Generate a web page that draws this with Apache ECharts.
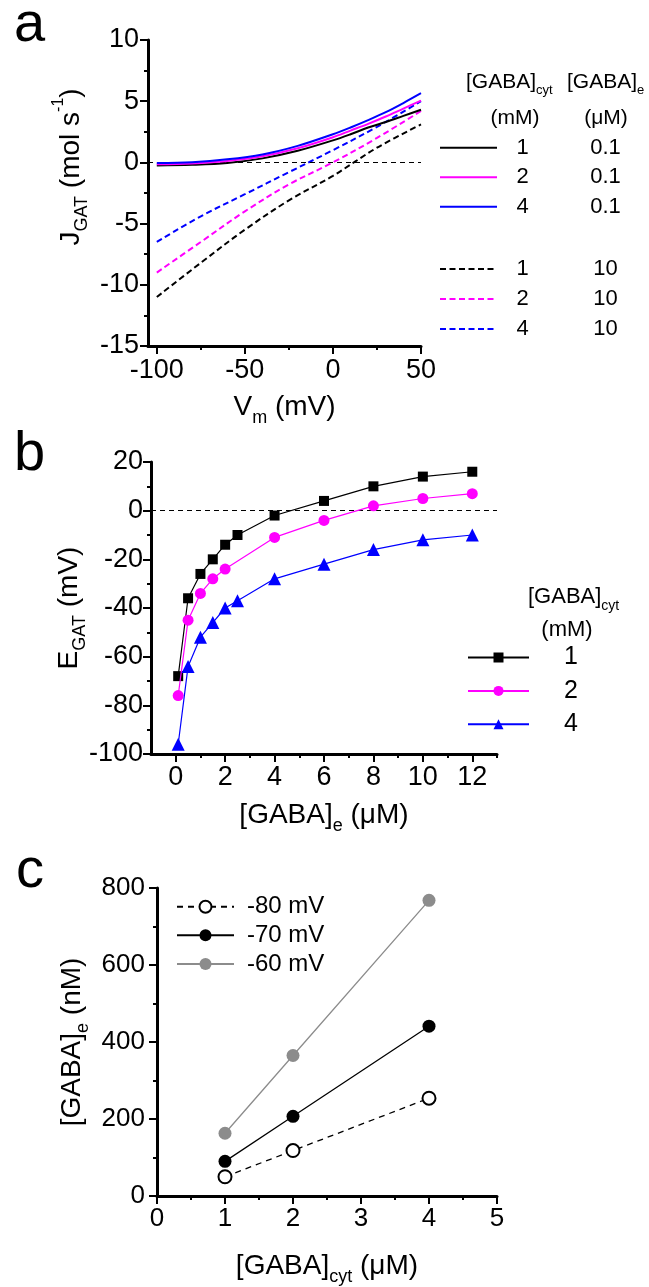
<!DOCTYPE html>
<html><head><meta charset="utf-8">
<script src="https://cdn.jsdelivr.net/npm/echarts@6/dist/echarts.min.js"></script>
<style>html,body{margin:0;padding:0;background:#fff}#c{width:649px;height:1287px}</style>
</head><body><div id="c"></div>
<script>
// ---------- Panel a data ----------
const vmSolid = [-100,-80,-60,-40,-20,0,10,20,30,40,50];
const jCyt1Low = [-0.25,-0.2,-0.05,0.33,0.95,1.8,2.3,2.85,3.3,3.8,4.3];
const jCyt2Low = [-0.15,-0.08,0.12,0.5,1.15,2.05,2.6,3.15,3.75,4.4,5.05];
const jCyt4Low = [-0.05,0.02,0.25,0.65,1.35,2.3,2.85,3.45,4.1,4.85,5.65];
const vmDashed = [-100,-75,-50,-25,0,25,50];
const jCyt1High = [-11.0,-8.2,-5.5,-3.1,-1.1,1.2,3.1];
const jCyt2High = [-9.0,-6.5,-4.0,-1.8,0.0,2.0,4.2];
const jCyt4High = [-6.5,-4.4,-2.6,-0.8,1.0,2.9,5.0];
const xTicksA = [-100,-50,0,50];
const xMinorA = [-75,-25,25];
const cytLevels = ['1','2','4'];
const eLevels = ['0.1','10'];
// ---------- Panel b data ----------
const gabaE1 = [0.1,0.5,1,1.5,2,2.5,4,6,8,10,12];
const eCyt1 = [-68,-36,-26,-20,-14,-10,-2,4,10,14,16];
const gabaE2 = [0.1,0.5,1,1.5,2,4,6,8,10,12];
const eCyt2 = [-76,-45,-34,-28,-24,-11,-4,2,5,7];
const gabaE4 = [0.1,0.5,1,1.5,2,2.5,4,6,8,10,12];
const eCyt4 = [-96,-64,-52,-46,-40,-37,-28,-22,-16,-12,-10];
const xTicksB = [0,2,4,6,8,10,12];
const xMinorB = [1,3,5,7,9,11,13];
// ---------- Panel c data ----------
const gabaCyt = [1,2,4];
const gabaE80 = [50,118,254];
const gabaE70 = [90,207,441];
const gabaE60 = [163,365,768];
const vLabels = ['-80 mV','-70 mV','-60 mV'];

const FF = '"Liberation Sans", Arial, Helvetica, sans-serif';
const pairs = (xs, ys) => xs.map((x, i) => [x, ys[i]]);

function nameRich(size, sub) {
  return {
    m: {fontSize: size, lineHeight: 40, color: '#000', fontFamily: FF},
    s: {fontSize: sub, lineHeight: sub, verticalAlign: 'bottom', color: '#000', fontFamily: FF},
    p: {fontSize: sub - 2, lineHeight: sub, verticalAlign: 'top', color: '#000', fontFamily: FF}
  };
}
function baseAxis(o) {
  const ax = {
    type: 'value',
    nameMoveOverlap: false,
    axisLine: {show: true, onZero: false, lineStyle: {color: '#000', width: 3}},
    axisTick: {show: true, inside: false, length: 8, lineStyle: {color: '#000', width: 2}},
    minorTick: {show: true, splitNumber: 2, length: 4, lineStyle: {color: '#000', width: 2}},
    splitLine: {show: false},
    minorSplitLine: {show: false},
    axisLabel: {color: '#000', fontSize: 27, fontFamily: FF, margin: 10}
  };
  for (const k in o) {
    if (ax[k] && typeof ax[k] === 'object' && typeof o[k] === 'object' && !Array.isArray(o[k])) {
      ax[k] = Object.assign({}, ax[k], o[k]);
    } else ax[k] = o[k];
  }
  return ax;
}
function minorAxis(grid, min, max, vals) {
  return {
    type: 'value', gridIndex: grid, min, max, position: 'bottom',
    axisLine: {show: false, onZero: false},
    axisTick: {show: true, inside: false, length: 4, customValues: vals, lineStyle: {color: '#000', width: 2}},
    axisLabel: {show: false}, splitLine: {show: false}
  };
}

const xAxis = [
  baseAxis({gridIndex: 0, min: -105, max: 50, minorTick: {show: false},
    axisTick: {customValues: xTicksA}, axisLabel: {customValues: xTicksA, margin: 11},
    name: '{m|V}{s|m}{m| (mV)}', nameLocation: 'middle', nameGap: 41,
    nameTextStyle: {rich: nameRich(28, 18)}}),
  minorAxis(0, -105, 50, xMinorA),
  baseAxis({gridIndex: 1, min: -1, max: 13, minorTick: {show: false},
    axisTick: {customValues: xTicksB}, axisLabel: {customValues: xTicksB, margin: 10},
    name: '{m|[GABA]}{s|e}{m| (\u03bcM)}', nameLocation: 'middle', nameGap: 41,
    nameTextStyle: {rich: nameRich(28, 18)}}),
  minorAxis(1, -1, 13, xMinorB),
  baseAxis({gridIndex: 2, min: 0, max: 5, interval: 1, axisLabel: {margin: 10, fontSize: 26},
    name: '{m|[GABA]}{s|cyt}{m| (\u03bcM)}', nameLocation: 'middle', nameGap: 50,
    nameTextStyle: {rich: nameRich(28, 18)}})
];
const yAxis = [
  baseAxis({gridIndex: 0, min: -15, max: 10, interval: 5, axisLabel: {margin: 9},
    name: '{m|J}{s|GAT}{m| (mol s}{p|-1}{m|)}', nameLocation: 'middle', nameGap: 57,
    nameTextStyle: {rich: nameRich(28, 18), padding: [0, 0, 0, 52]}}),
  baseAxis({gridIndex: 1, min: -100, max: 20, interval: 20, axisLabel: {margin: 8},
    name: '{m|E}{s|GAT}{m| (mV)}', nameLocation: 'middle', nameGap: 62,
    nameTextStyle: {rich: nameRich(28, 18)}}),
  baseAxis({gridIndex: 2, min: 0, max: 800, interval: 200, axisLabel: {margin: 12, fontSize: 26},
    name: '{m|[GABA]}{s|e}{m| (nM)}', nameLocation: 'middle', nameGap: 65,
    nameTextStyle: {rich: nameRich(28, 18)}})
];

const colors = ['#000000', '#ff00ff', '#0000ff'];
const lowSets = [jCyt1Low, jCyt2Low, jCyt4Low];
const highSets = [jCyt1High, jCyt2High, jCyt4High];
const series = [];
const legendLow = [], legendHigh = [], legendMap = {};
cytLevels.forEach((c, i) => {
  const nm = 'cyt ' + c + ' / e ' + eLevels[0];
  legendLow.push(nm); legendMap[nm] = [c, eLevels[0]];
  series.push({type: 'line', name: nm, xAxisIndex: 0, yAxisIndex: 0,
    data: pairs(vmSolid, lowSets[i]), smooth: 0.35, symbol: 'none',
    lineStyle: {color: colors[i], width: 2}, itemStyle: {color: colors[i]}, z: 5 + i});
});
cytLevels.forEach((c, i) => {
  const nm = 'cyt ' + c + ' / e ' + eLevels[1];
  legendHigh.push(nm); legendMap[nm] = [c, eLevels[1]];
  series.push({type: 'line', name: nm, xAxisIndex: 0, yAxisIndex: 0,
    data: pairs(vmDashed, highSets[i]), smooth: 0.35, symbol: 'none',
    lineStyle: {color: colors[i], width: 2, type: [6, 3.5]}, itemStyle: {color: colors[i]}, z: 3});
});
// zero reference line in panel a
series[0].markLine = {silent: true, symbol: 'none', label: {show: false}, animation: false,
  lineStyle: {color: '#000', width: 1, type: [5, 4]}, data: [{yAxis: 0}]};

// Panel b
const bX = [gabaE1, gabaE2, gabaE4], bY = [eCyt1, eCyt2, eCyt4];
const bSym = ['rect', 'circle', 'triangle'], bSize = [10, 11, 13];
const legendB = [];
cytLevels.forEach((c, i) => {
  const nm = 'b ' + c;
  legendB.push(nm); legendMap[nm] = [c];
  series.push({type: 'line', name: nm, xAxisIndex: 2, yAxisIndex: 1,
    data: pairs(bX[i], bY[i]), symbol: bSym[i], symbolSize: bSize[i],
    lineStyle: {color: colors[i], width: 1.2}, itemStyle: {color: colors[i]}, z: 5 + i,
    markLine: i === 0 ? {silent: true, symbol: 'none', label: {show: false}, animation: false,
      lineStyle: {color: '#000', width: 1.2, type: [5, 4]}, data: [{yAxis: 0}]} : undefined});
});

// Panel c
const cY = [gabaE80, gabaE70, gabaE60];
const cColor = ['#000000', '#000000', '#8c8c8c'];
const legendC = [];
vLabels.forEach((v, i) => {
  legendC.push(v); legendMap[v] = [v];
  series.push({type: 'line', name: v, xAxisIndex: 4, yAxisIndex: 2,
    data: pairs(gabaCyt, cY[i]), symbol: i === 0 ? 'emptyCircle' : 'circle', symbolSize: 13,
    lineStyle: {color: cColor[i], width: 1.3, type: i === 0 ? [6, 5] : 'solid'},
    itemStyle: i === 0 ? {color: '#000', borderColor: '#000', borderWidth: 1.2} : {color: cColor[i]},
    z: 5});
});

const legendA = (data, top, gap) => ({
  data, orient: 'vertical', left: 439, top, padding: 0, itemWidth: 57, itemHeight: 22, itemGap: gap,
  selectedMode: false, itemStyle: {opacity: 0},
  formatter: n => '{n|' + legendMap[n][0] + '}{v|' + legendMap[n][1] + '}',
  textStyle: {rich: {
    n: {width: 41, align: 'center', fontSize: 22, lineHeight: 22, color: '#000', fontFamily: FF},
    v: {width: 125, align: 'center', fontSize: 22, lineHeight: 22, color: '#000', fontFamily: FF}
  }}
});

const txt = (x, y, text, size, align, rich) => ({
  type: 'text', x, y, silent: true,
  style: Object.assign({text, fontSize: size, fontFamily: FF, fill: '#000',
    align: align || 'left', verticalAlign: 'middle'}, rich ? {rich} : {})
});
const hdrRich = (size, sub) => ({
  h: {fontSize: size, lineHeight: size * 1.45, fill: '#000', fontFamily: FF},
  s: {fontSize: sub, lineHeight: sub, verticalAlign: 'bottom', fill: '#000', fontFamily: FF}
});

const option = {
  animation: false,
  backgroundColor: '#fff',
  grid: [
    {left: 148, top: 40, width: 273, height: 306, outerBoundsMode: 'none'},
    {left: 151, top: 462, width: 346, height: 292, outerBoundsMode: 'none'},
    {left: 157, top: 888, width: 340, height: 308, outerBoundsMode: 'none'}
  ],
  xAxis, yAxis, series,
  legend: [
    legendA(legendLow, 136.7, 7.5),
    legendA(legendHigh, 258, 8),
    {data: legendB, orient: 'vertical', left: 467, top: 645, padding: 0, itemWidth: 61, itemHeight: 12.5,
     itemGap: 8.4, selectedMode: false,
     formatter: n => '{n|' + legendMap[n][0] + '}',
     textStyle: {rich: {n: {width: 74, align: 'center', fontSize: 25, lineHeight: 26, color: '#000', fontFamily: FF}}}},
    {data: legendC, orient: 'vertical', left: 176, top: 894.7, padding: 0, itemWidth: 57, itemHeight: 15,
     itemGap: 4.6, selectedMode: false,
     formatter: n => '{n|' + legendMap[n][0] + '}',
     textStyle: {rich: {n: {fontSize: 24, lineHeight: 26, padding: [0, 0, 0, 8], color: '#000', fontFamily: FF}}}}
  ],
  graphic: [
    txt(14, 26, 'a', 56),
    txt(14, 455, 'b', 56),
    txt(16, 872, 'c', 56),
    txt(466, 82, '{h|[GABA]}{s|cyt}', 21, 'left', hdrRich(21, 13)),
    txt(567, 82, '{h|[GABA]}{s|e}', 21, 'left', hdrRich(21, 13)),
    txt(515, 118, '(mM)', 21, 'center'),
    txt(606, 118, '(\u03bcM)', 21, 'center'),
    txt(528, 597, '{h|[GABA]}{s|cyt}', 22, 'left', hdrRich(22, 14)),
    txt(567, 630, '(mM)', 22, 'center')
  ]
};
const chart = echarts.init(document.getElementById('c'), null, {renderer: 'canvas'});
chart.setOption(option);
</script></body></html>
